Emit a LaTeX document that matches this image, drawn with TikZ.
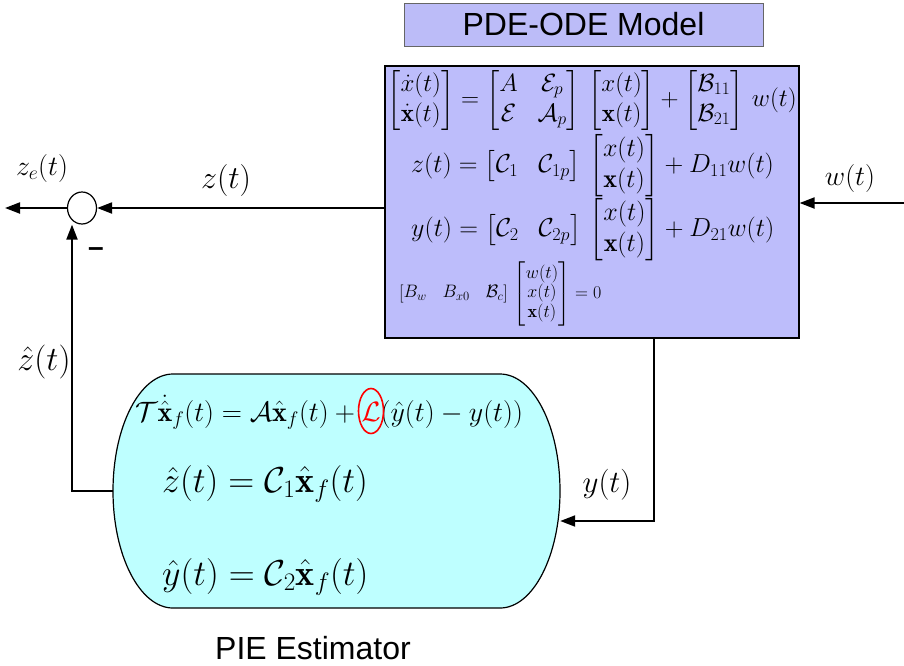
\RequirePackage{fix-cm}
\documentclass[tikz,border=0pt]{standalone}
\usepackage{amsmath,amssymb}
\usepackage{fontspec}
\newfontfamily\helv{Liberation Sans}
\usetikzlibrary{shapes.geometric,arrows.meta}
\definecolor{modelblue}{RGB}{189,189,251}
\definecolor{titleblue}{RGB}{188,188,248}
\definecolor{estcyan}{RGB}{190,255,255}
\tikzset{
  arr/.style={line width=2pt,-{Triangle[length=15pt,width=11pt]}},
  lbl/.style={inner sep=0pt},
}
\newcommand{\fs}[2][1.2]{\fontsize{#2}{#1\dimexpr#2pt\relax}\selectfont}
\begin{document}
\begin{tikzpicture}[x=1pt,y=-1pt]
\useasboundingbox (0,0) rectangle (904,665);
% title
\node[draw=gray!80!black, fill=titleblue, line width=1pt, minimum width=359pt, minimum height=43pt, inner sep=0pt] (title) at (583.5,24.5) {\helv\fs{32}PDE-ODE Model};
% model box
\node[draw=black, fill=modelblue, line width=1.2pt, minimum width=414pt, minimum height=272pt, inner sep=0pt] (model) at (592,202) {};
\node[lbl, anchor=center] (eq1) at (592,100) {\fs{25}\arraycolsep=10pt$\begin{bmatrix}\dot x(t)\\ \dot{\mathbf{x}}(t)\end{bmatrix}=\begin{bmatrix}A & \mathcal{E}_p\\ \mathcal{E} & \mathcal{A}_p\end{bmatrix}\,\begin{bmatrix}x(t)\\ \mathbf{x}(t)\end{bmatrix}+\begin{bmatrix}\mathcal{B}_{11}\\ \mathcal{B}_{21}\end{bmatrix}\,w(t)$};
\node[lbl, anchor=west] (eq2) at (411,166) {\fs{26}\arraycolsep=10pt$z(t)=\begin{bmatrix}\mathcal{C}_1 & \mathcal{C}_{1p}\end{bmatrix}\,\begin{bmatrix}x(t)\\ \mathbf{x}(t)\end{bmatrix}+D_{11}w(t)$};
\node[lbl, anchor=west] (eq3) at (411,230) {\fs{26}\arraycolsep=10pt$y(t)=\begin{bmatrix}\mathcal{C}_2 & \mathcal{C}_{2p}\end{bmatrix}\,\begin{bmatrix}x(t)\\ \mathbf{x}(t)\end{bmatrix}+D_{21}w(t)$};
\node[lbl, anchor=west] (eq4) at (399,294) {\fs[1.1]{18}\arraycolsep=8pt$\begin{bmatrix}B_w & B_{x0} & \mathcal{B}_c\end{bmatrix}\,\begin{bmatrix}w(t)\\ x(t)\\ \mathbf{x}(t)\end{bmatrix}=0$};
% summing junction
\node[draw=black, line width=1.2pt, ellipse, minimum width=29pt, minimum height=32pt, inner sep=0pt] (sum) at (82,208) {};
\coordinate (zeout) at (5,208);
\coordinate (win) at (904,203);
\coordinate (turn) at (72,491);
\coordinate (ydown) at (654,521);
% estimator
\node[minimum width=447pt, minimum height=234pt, inner sep=0pt] (est) at (336.5,491) {};
\draw[fill=estcyan, line width=1.2pt] (173,374) -- (500,374) arc[start angle=90,end angle=-90,x radius=60pt,y radius=117pt] -- (173,608) arc[start angle=270,end angle=90,x radius=60pt,y radius=117pt] -- cycle;
\node[lbl, anchor=base west] (e1) at (135,421) {\fs{28}$\mathcal{T}\dot{\hat{\mathbf{x}}}_f(t)=\mathcal{A}\hat{\mathbf{x}}_f(t)+{\color{red}\mathcal{L}}(\hat y(t)-y(t))$};
\node[lbl, anchor=base west] (e2) at (162,492) {\fs{36}$\hat z(t)=\mathcal{C}_1\hat{\mathbf{x}}_f(t)$};
\node[lbl, anchor=base west] (e3) at (162,585) {\fs{36}$\hat y(t)=\mathcal{C}_2\hat{\mathbf{x}}_f(t)$};
\node[draw=red, line width=1.6pt, ellipse, minimum width=25pt, minimum height=45pt, inner sep=0pt] (lcirc) at (371,411) {};
% labels
\node[lbl] (zel) at (42,168) {\fs{28}$z_e(t)$};
\node[lbl] (zl) at (226,180) {\fs{32}$z(t)$};
\node[lbl] (wl) at (850,178) {\fs{28}$w(t)$};
\node[lbl] (zhl) at (44,362) {\fs{34}$\hat z(t)$};
\node[lbl] (yl) at (607,485) {\fs{31}$y(t)$};
\node[lbl] (minus) at (96,252) {\helv\bfseries\fs{28}–};
\node[lbl] (pie) at (313,648) {\helv\fs{32}PIE Estimator};
% connectors
\draw[arr] (sum -| model.west) -- (sum.east);
\draw[arr] (sum.west) -- (zeout);
\draw[arr] (win) -- (win -| model.east);
\draw[arr] (est.west) -- (turn) -- (turn |- sum.south);
\draw[arr] (model.south -| ydown) -- (ydown) -- (ydown -| est.east);
\end{tikzpicture}
\end{document}
